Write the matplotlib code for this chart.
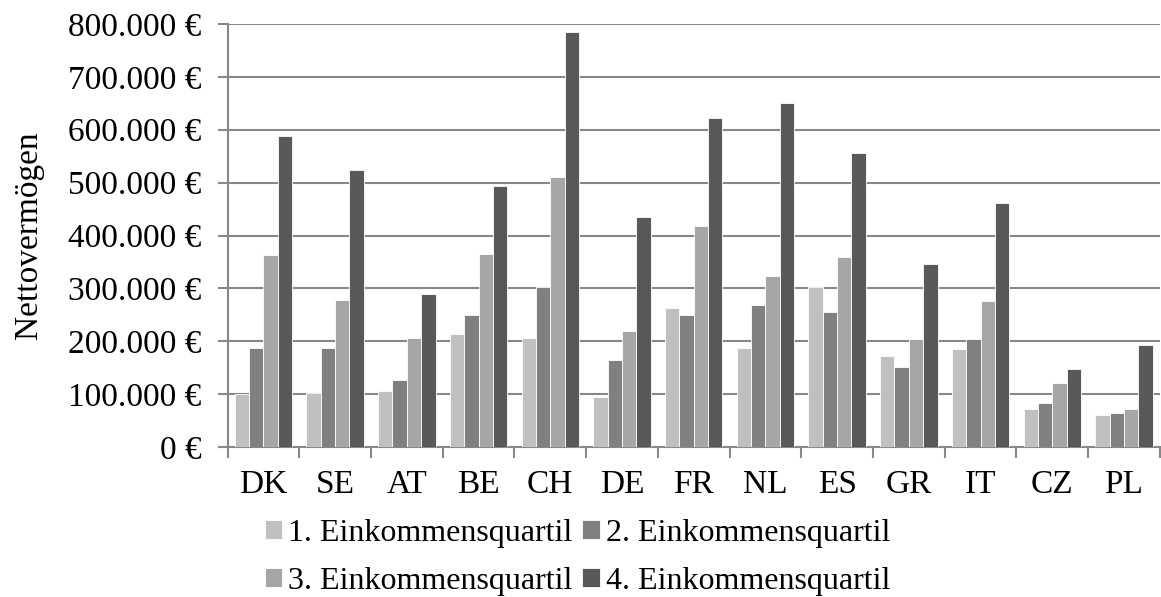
import matplotlib.pyplot as plt
import numpy as np
from matplotlib.ticker import FuncFormatter

plt.rcParams["font.family"] = ["Liberation Serif", "DejaVu Serif"]

countries = ["DK", "SE", "AT", "BE", "CH", "DE", "FR", "NL", "ES", "GR", "IT", "CZ", "PL"]
q1 = [101, 103, 106, 213, 207, 95, 263, 187, 303, 172, 185, 72, 61]
q2 = [188, 188, 127, 249, 302, 165, 250, 269, 256, 151, 204, 84, 64]
q3 = [363, 278, 206, 365, 511, 220, 418, 323, 359, 204, 276, 121, 73]
q4 = [589, 524, 290, 493, 784, 435, 623, 650, 556, 346, 462, 148, 193]
labels = ["1. Einkommensquartil", "2. Einkommensquartil",
          "3. Einkommensquartil", "4. Einkommensquartil"]
colors = ["#c0c0c0", "#808080", "#a6a6a6", "#595959"]

fig = plt.figure(figsize=(11.61, 5.97), dpi=100)
ax = fig.add_axes([0.196, 0.251, 0.803, 0.709])

x = np.arange(len(countries))
w = 0.2
handles = []
for i, (vals, lab, col) in enumerate(zip([q1, q2, q3, q4], labels, colors)):
    b = ax.bar(x + (i - 1.5) * w, np.array(vals) * 1000, width=w, color=col,
               edgecolor="white", linewidth=0.6, label=lab, zorder=3)
    handles.append(b)

ax.set_xlim(-0.5, len(countries) - 0.5)
ax.set_ylim(0, 800000)
ax.set_yticks(np.arange(0, 800001, 100000))
ax.yaxis.set_major_formatter(FuncFormatter(
    lambda v, p: "0 €" if v == 0 else f"{int(v):,} €".replace(",", ".")))
ax.grid(axis="y", color="#888888", linewidth=1.5, zorder=0)

ax.set_xticks(x)
ax.set_xticklabels(countries)
ax.set_xticks(np.arange(-0.5, len(countries)), minor=True)
ax.tick_params(axis="x", which="major", length=0, labelsize=24, pad=16)
ax.tick_params(axis="x", which="minor", length=8, width=1.5, color="#888888")
ax.tick_params(axis="y", length=7, width=1.5, color="#888888", labelsize=24, pad=12)

for s in ["top", "right"]:
    ax.spines[s].set_visible(False)
for s in ["left", "bottom"]:
    ax.spines[s].set_color("#888888")
    ax.spines[s].set_linewidth(1.5)

ax.set_ylabel("Nettovermögen", fontsize=24, labelpad=17)

# row-major order in a two-column legend
order = [0, 2, 1, 3]
ax.legend([handles[i] for i in order], [labels[i] for i in order],
          loc="center", bbox_to_anchor=(0.3755, -0.26), ncol=2, frameon=False,
          fontsize=23, handlelength=0.55, handleheight=0.55, handletextpad=0.2,
          columnspacing=0.3, labelspacing=0.6, borderpad=0)

fig.savefig("out.png", dpi=100)
